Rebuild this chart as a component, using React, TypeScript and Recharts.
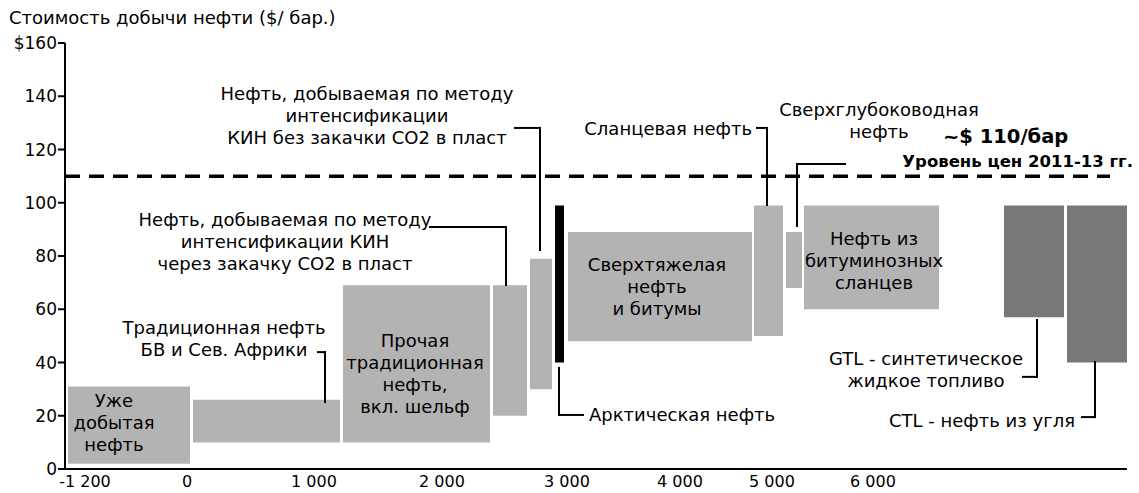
import React from 'react';
import { ComposedChart, XAxis, YAxis, ReferenceArea, ReferenceLine, ReferenceDot } from 'recharts';

const FONT = '"DejaVu Sans", Verdana, sans-serif';

// Categories (oil resource types)
const categories = [
  'Уже добытая нефть',
  'Традиционная нефть БВ и Сев. Африки',
  'Прочая традиционная нефть, вкл. шельф',
  'КИН через закачку CO2',
  'КИН без закачки CO2',
  'Арктическая нефть',
  'Сверхтяжелая нефть и битумы',
  'Сланцевая нефть',
  'Сверхглубоководная нефть',
  'Нефть из битуминозных сланцев',
  'GTL',
  'CTL',
];
// Cumulative resource axis (start / end of each block)
const xStart = [-1220, 30, 1530, 3030, 3400, 3650, 3780, 5640, 5960, 6140, 8140, 8770];
const xEnd = [0, 1500, 3000, 3370, 3620, 3740, 5620, 5930, 6120, 7490, 8740, 9370];
// Production cost range, $/bbl
const costLow = [2, 10, 10, 20, 30, 40, 48, 50, 68, 60, 57, 40];
const costHigh = [31, 26, 69, 69, 79, 99, 89, 99, 89, 99, 99, 99];
const group = ['oil', 'oil', 'oil', 'oil', 'oil', 'arctic', 'oil', 'oil', 'oil', 'oil', 'synthetic', 'synthetic'];

const PRICE_LEVEL = 110;

const Y_TICKS = [0, 20, 40, 60, 80, 100, 120, 140, 160];
const X_TICK_POS = [-1050, -30, 1240, 2520, 3770, 4900, 5820, 6830];
const X_TICK_LABELS = ['-1 200', '0', '1 000', '2 000', '3 000', '4 000', '5 000', '6 000'];

// Annotation texts (anchor point in data units)
const annoLines = [
  ['Нефть, добываемая по методу', 'интенсификации', 'КИН без закачки CO2 в пласт'],
  ['Нефть, добываемая по методу', 'интенсификации КИН', 'через закачку CO2 в пласт'],
  ['Традиционная нефть', 'БВ и Сев. Африки'],
  ['Сланцевая нефть'],
  ['Сверхглубоководная', 'нефть'],
  ['Сверхтяжелая', 'нефть', 'и битумы'],
  ['Нефть из', 'битуминозных', 'сланцев'],
  ['Прочая', 'традиционная', 'нефть,', 'вкл. шельф'],
  ['Уже', 'добытая', 'нефть'],
  ['Арктическая нефть'],
  ['GTL - синтетическое', 'жидкое топливо'],
  ['CTL - нефть из угля'],
];
const annoX = [1770, 950, 340, 5620, 6890, 4670, 6840, 2250, -760, 3990, 7360, 8850];
const annoY = [138.6, 91.3, 50.7, 125.4, 132.6, 74.4, 84.1, 45.8, 23.3, 18.0, 39.1, 15.8];
const annoAnchor = ['middle', 'middle', 'middle', 'end', 'middle', 'middle', 'middle', 'middle', 'middle', 'start', 'middle', 'end'];

// Leader lines (polyline vertices in data units)
const leaders = [
  [[3250, 128.1], [3500, 128.1], [3500, 82.3]],
  [[2400, 90.9], [3160, 90.9], [3160, 69.1]],
  [[1280, 43.9], [1350, 43.9], [1350, 25.2]],
  [[5670, 128.1], [5770, 128.1], [5770, 99.2]],
  [[6550, 114.6], [6070, 114.6], [6070, 91.3]],
  [[3690, 37.9], [3690, 20.3], [3930, 20.3]],
  [[8470, 56.0], [8470, 34.6], [8330, 34.6]],
  [[9050, 40.2], [9050, 19.5], [8920, 19.5]],
];

const colorOf = (g: string) => (g === 'arctic' ? '#000000' : g === 'synthetic' ? '#787878' : '#b3b3b3');

const textShape = (lines: string[], anchor: string, lh: number, size: number, weight: string | number) => (p: any) => (
  <text
    x={p.cx}
    y={p.cy}
    textAnchor={anchor as any}
    fontFamily={FONT}
    fontSize={size}
    fontWeight={weight as any}
    fill="#000"
  >
    {lines.map((l, i) => (
      <tspan key={i} x={p.cx} dy={i === 0 ? 0 : lh}>
        {l}
      </tspan>
    ))}
  </text>
);

export default function App() {
  return (
    <div style={{ position: 'absolute', left: 0, top: 0, width: 1139, height: 493, background: '#fff' }}>
      <div
        style={{
          position: 'absolute',
          left: 9,
          top: 9,
          fontFamily: FONT,
          fontSize: 18,
          lineHeight: '18px',
          color: '#000',
          whiteSpace: 'nowrap',
        }}
      >
        Стоимость добычи нефти ($/ бар.)
      </div>
      <ComposedChart width={1139} height={493} margin={{ top: 43, right: 12, bottom: 0, left: 0 }}>
        <XAxis
          type="number"
          dataKey="x"
          domain={[-1250, 9370]}
          ticks={X_TICK_POS}
          interval={0}
          allowDataOverflow
          tickLine={false}
          tickMargin={1}
          height={24}
          axisLine={{ stroke: '#000', strokeWidth: 2 }}
          tick={{ fill: '#000', fontSize: 16, fontFamily: FONT }}
          tickFormatter={(v: number) => X_TICK_LABELS[X_TICK_POS.indexOf(v)] ?? ''}
        />
        <YAxis
          type="number"
          domain={[0, 160]}
          ticks={Y_TICKS}
          interval={0}
          allowDataOverflow
          width={65}
          tickSize={7}
          tickMargin={1}
          tickLine={{ stroke: '#000', strokeWidth: 2 }}
          axisLine={{ stroke: '#000', strokeWidth: 2 }}
          tick={{ fill: '#000', fontSize: 17, fontFamily: FONT }}
          tickFormatter={(v: number) => (v === 160 ? '$160' : String(v))}
        />
        {categories.map((c, i) => (
          <ReferenceArea
            key={c}
            x1={xStart[i]}
            x2={xEnd[i]}
            y1={costLow[i]}
            y2={costHigh[i]}
            fill={colorOf(group[i])}
            fillOpacity={1}
            stroke="none"
            ifOverflow="visible"
          />
        ))}
        <ReferenceLine
          segment={[
            { x: -1250, y: PRICE_LEVEL },
            { x: 9200, y: PRICE_LEVEL },
          ]}
          stroke="#000"
          strokeWidth={3.5}
          strokeDasharray="15 9"
          ifOverflow="visible"
        />
        {leaders.flatMap((pts, li) =>
          pts.slice(1).map((pt, si) => (
            <ReferenceLine
              key={`l${li}-${si}`}
              segment={[
                { x: pts[si][0], y: pts[si][1] },
                { x: pt[0], y: pt[1] },
              ]}
              stroke="#000"
              strokeWidth={2}
              strokeLinecap="square"
              ifOverflow="visible"
            />
          ))
        )}
        {annoLines.map((lines, i) => (
          <ReferenceDot
            key={`a${i}`}
            x={annoX[i]}
            y={annoY[i]}
            r={0}
            ifOverflow="visible"
            shape={textShape(lines, annoAnchor[i], 22, 18, 'normal')}
          />
        ))}
        <ReferenceDot
          x={7530}
          y={122.4}
          r={0}
          ifOverflow="visible"
          shape={textShape(['~$ 110/бар'], 'start', 22, 19.5, 'bold')}
        />
        <ReferenceDot
          x={9430}
          y={113.4}
          r={0}
          ifOverflow="visible"
          shape={textShape(['Уровень цен 2011-13 гг.'], 'end', 22, 16.5, 'bold')}
        />
      </ComposedChart>
    </div>
  );
}
